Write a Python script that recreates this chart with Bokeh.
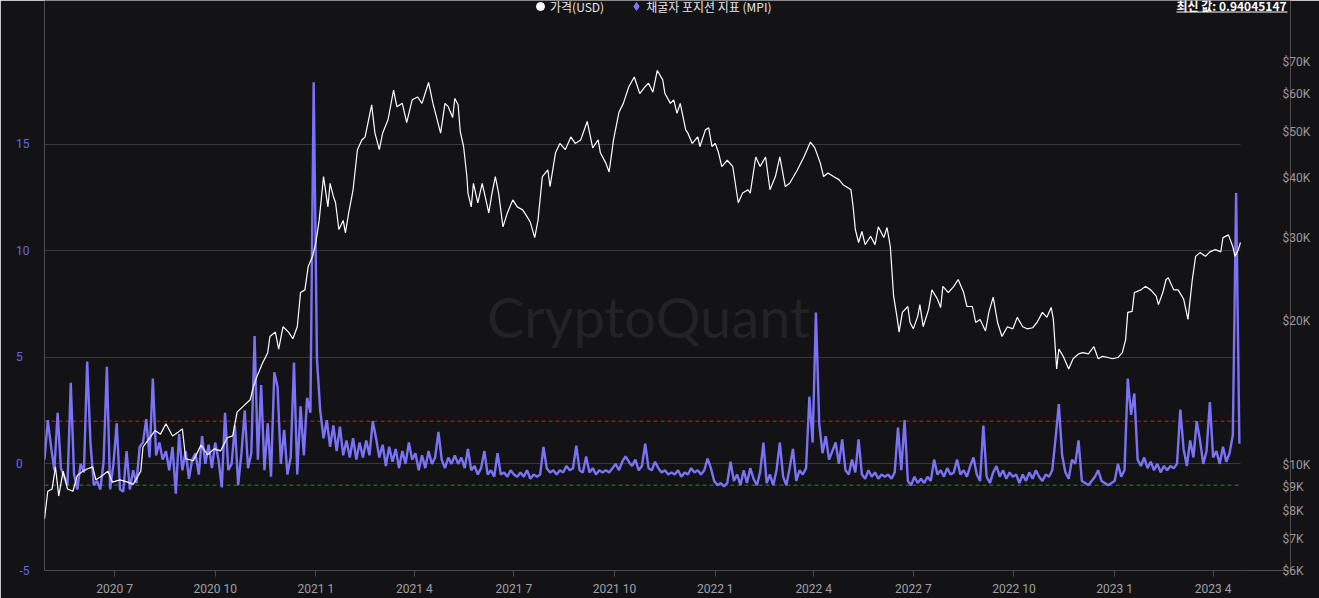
import pandas as pd
from bokeh.plotting import figure
from bokeh.models import (Range1d, LogScale, LogAxis, FixedTicker, CustomJSTickFormatter,
                          Label, Legend, LegendItem, BoxAnnotation)
from bokeh.embed import file_html
from bokeh.resources import INLINE

# ---------------- data ----------------
price_dates = [
    "2020-04-28", "2020-05-01", "2020-05-05", "2020-05-08", "2020-05-11", "2020-05-15", "2020-05-19", "2020-05-24",
    "2020-05-28", "2020-06-02", "2020-06-06", "2020-06-11", "2020-06-14", "2020-06-20", "2020-06-25", "2020-06-29",
    "2020-07-06", "2020-07-13", "2020-07-18", "2020-07-25", "2020-07-27", "2020-08-01", "2020-08-07", "2020-08-12",
    "2020-08-17", "2020-08-23", "2020-08-28", "2020-09-01", "2020-09-04", "2020-09-11", "2020-09-18", "2020-09-24",
    "2020-09-30", "2020-10-06", "2020-10-12", "2020-10-17", "2020-10-21", "2020-10-27", "2020-11-02", "2020-11-05",
    "2020-11-08", "2020-11-13", "2020-11-18", "2020-11-20", "2020-11-25", "2020-11-28", "2020-12-02", "2020-12-07",
    "2020-12-11", "2020-12-15", "2020-12-18", "2020-12-22", "2020-12-25", "2020-12-29", "2021-01-01", "2021-01-04",
    "2021-01-08", "2021-01-12", "2021-01-14", "2021-01-17", "2021-01-19", "2021-01-22", "2021-01-26", "2021-01-28",
    "2021-01-31", "2021-02-04", "2021-02-08", "2021-02-12", "2021-02-15", "2021-02-21", "2021-02-24", "2021-02-28",
    "2021-03-03", "2021-03-08", "2021-03-13", "2021-03-16", "2021-03-21", "2021-03-25", "2021-03-30", "2021-04-04",
    "2021-04-08", "2021-04-14", "2021-04-18", "2021-04-25", "2021-04-29", "2021-05-02", "2021-05-06", "2021-05-08",
    "2021-05-11", "2021-05-13", "2021-05-16", "2021-05-19", "2021-05-20", "2021-05-23", "2021-05-25", "2021-05-29",
    "2021-06-02", "2021-06-06", "2021-06-08", "2021-06-11", "2021-06-14", "2021-06-17", "2021-06-21", "2021-06-25",
    "2021-06-30", "2021-07-04", "2021-07-09", "2021-07-13", "2021-07-16", "2021-07-20", "2021-07-23", "2021-07-27",
    "2021-08-01", "2021-08-03", "2021-08-08", "2021-08-12", "2021-08-17", "2021-08-22", "2021-08-26", "2021-08-31",
    "2021-09-06", "2021-09-11", "2021-09-16", "2021-09-18", "2021-09-23", "2021-09-26", "2021-09-30", "2021-10-05",
    "2021-10-09", "2021-10-14", "2021-10-19", "2021-10-24", "2021-10-28", "2021-11-01", "2021-11-05", "2021-11-09",
    "2021-11-14", "2021-11-16", "2021-11-21", "2021-11-24", "2021-11-27", "2021-11-30", "2021-12-05", "2021-12-07",
    "2021-12-11", "2021-12-16", "2021-12-18", "2021-12-23", "2021-12-26", "2021-12-29", "2022-01-01", "2022-01-04",
    "2022-01-07", "2022-01-12", "2022-01-17", "2022-01-22", "2022-01-26", "2022-01-31", "2022-02-02", "2022-02-07",
    "2022-02-11", "2022-02-16", "2022-02-20", "2022-02-25", "2022-03-01", "2022-03-06", "2022-03-10", "2022-03-17",
    "2022-03-23", "2022-03-29", "2022-04-02", "2022-04-07", "2022-04-10", "2022-04-14", "2022-04-19", "2022-04-24",
    "2022-04-28", "2022-05-03", "2022-05-05", "2022-05-07", "2022-05-09", "2022-05-12", "2022-05-15", "2022-05-18",
    "2022-05-23", "2022-05-27", "2022-05-30", "2022-06-04", "2022-06-07", "2022-06-10", "2022-06-13", "2022-06-16",
    "2022-06-18", "2022-06-21", "2022-06-26", "2022-06-28", "2022-07-01", "2022-07-05", "2022-07-07", "2022-07-10",
    "2022-07-15", "2022-07-18", "2022-07-23", "2022-07-26", "2022-07-28", "2022-08-02", "2022-08-07", "2022-08-11",
    "2022-08-16", "2022-08-19", "2022-08-24", "2022-08-27", "2022-08-31", "2022-09-05", "2022-09-08", "2022-09-12",
    "2022-09-16", "2022-09-20", "2022-09-25", "2022-09-30", "2022-10-04", "2022-10-09", "2022-10-13", "2022-10-18",
    "2022-10-22", "2022-10-27", "2022-10-31", "2022-11-04", "2022-11-06", "2022-11-09", "2022-11-11", "2022-11-15",
    "2022-11-20", "2022-11-24", "2022-11-29", "2022-12-03", "2022-12-08", "2022-12-13", "2022-12-17", "2022-12-21",
    "2022-12-26", "2022-12-30", "2023-01-04", "2023-01-08", "2023-01-11", "2023-01-13", "2023-01-17", "2023-01-19",
    "2023-01-25", "2023-01-29", "2023-02-03", "2023-02-08", "2023-02-10", "2023-02-14", "2023-02-17", "2023-02-19",
    "2023-02-24", "2023-02-28", "2023-03-05", "2023-03-09", "2023-03-13", "2023-03-16", "2023-03-20", "2023-03-25",
    "2023-03-29", "2023-04-03", "2023-04-08", "2023-04-10", "2023-04-15", "2023-04-19", "2023-04-21", "2023-04-24",
    "2023-04-26",
]
price_usd = [
    7700, 8800, 8900, 9900, 8600, 9700, 8900, 8800,
    9500, 9700, 9800, 9900, 9300, 9500, 9700, 9200,
    9300, 9200, 9100, 9700, 10900, 11300, 11800, 11600,
    12200, 11500, 11700, 11900, 10300, 10200, 11000, 10500,
    10800, 10700, 11400, 11500, 12900, 13300, 13700, 14600,
    15300, 16300, 17200, 18600, 19000, 17500, 19500, 19000,
    18400, 19500, 23000, 23300, 26100, 27400, 29300, 32600,
    40300, 34800, 39000, 36600, 35500, 31200, 32600, 30700,
    33800, 37800, 45900, 48100, 48800, 57000, 49700, 45900,
    49700, 53100, 61200, 56500, 57400, 52300, 58400, 59200,
    57400, 63500, 57400, 49700, 57400, 56500, 53600, 58800,
    57000, 50000, 46600, 40300, 37200, 34800, 39000, 35500,
    39000, 35500, 33800, 37200, 40300, 37200, 31600, 33800,
    36000, 34800, 34300, 33200, 32300, 30000, 32600, 40300,
    41600, 38400, 45200, 47300, 45900, 48800, 47300, 48100,
    52600, 46300, 48100, 45200, 43000, 41200, 48100, 55000,
    57400, 62200, 65200, 60200, 61900, 63300, 60600, 67300,
    64300, 60200, 57400, 58400, 54700, 57400, 50500, 49700,
    47300, 48800, 46600, 50500, 51000, 46600, 47300, 45200,
    42300, 43600, 42300, 35500, 37200, 37800, 37200, 44300,
    42300, 44300, 37800, 40300, 44300, 38400, 39000, 41600,
    44300, 47600, 46300, 43000, 40300, 41000, 40300, 39700,
    38700, 38100, 37800, 34800, 31200, 29300, 30900, 29000,
    30200, 29000, 31600, 30000, 31500, 28700, 22600, 20500,
    19000, 20900, 21500, 19900, 19300, 20500, 21700, 19500,
    21200, 23300, 22300, 21400, 23700, 23000, 23700, 24500,
    23000, 21500, 21500, 19900, 20200, 19100, 20900, 22500,
    19900, 18600, 19500, 19300, 20400, 19500, 19300, 19400,
    19900, 20900, 20400, 21400, 20200, 15900, 17500, 16900,
    15900, 16700, 17100, 17200, 17100, 17700, 16700, 16900,
    16800, 16700, 16800, 17200, 18300, 20900, 21000, 23000,
    23300, 23700, 23300, 22600, 21700, 23000, 24500, 24700,
    23300, 23300, 22300, 20200, 24500, 27400, 27900, 27400,
    28000, 28300, 28000, 30000, 30400, 28700, 27400, 28300,
    29300,
]

# Miner Position Index, one reading every 3 days starting 2020-04-28
mpi_start = "2020-04-28"
mpi_step = "3D"
mpi_values = [
    0.2, 2.05, 0.8, -0.3, 2.4, -0.2, -0.6, -1.0, 3.8, -0.5,
    -1.2, 0.0, -0.4, 4.8, 1.0, -1.0, -0.8, -1.2, 0.1, 4.55,
    -1.2, 0.0, 1.9, -1.2, -1.3, 0.6, -1.2, -0.3, -0.9, 0.8,
    1.0, 2.1, 0.3, 4.0, 0.4, 1.0, 0.2, 0.6, -0.3, 0.8,
    -1.4, 1.4, -0.3, 0.6, -0.7, 0.2, 0.5, -0.5, 1.3, 0.0,
    0.9, -0.2, 1.0, 0.2, -1.1, 2.4, -0.3, 0.0, 1.8, -1.0,
    0.5, 2.5, -0.2, 0.5, 6.0, 0.2, 3.7, -0.3, 1.9, -0.6,
    4.3, 3.6, 0.0, 1.6, -0.5, 0.3, 4.75, -0.5, 2.7, 0.4,
    3.1, 2.4, 17.9, 4.9, 2.5, 1.2, 2.05, 0.8, 1.8, 0.6,
    1.75, 0.4, 1.1, 0.3, 1.2, 0.2, 1.0, 0.3, 1.1, 0.4,
    2.0, 1.2, 0.3, 0.9, -0.1, 0.8, 0.1, 0.7, -0.2, 0.6,
    0.0, 1.0, 0.2, 0.5, -0.3, 0.4, -0.2, 0.6, 0.0, 0.3,
    1.5, 0.2, -0.2, 0.3, 0.0, 0.4, 0.0, 0.3, -0.2, 0.7,
    -0.3, -0.1, -0.5, -0.2, 0.6, -0.5, -0.3, -0.6, 0.5, -0.5,
    -0.4, -0.6, -0.3, -0.5, -0.6, -0.4, -0.6, -0.3, -0.7, -0.5,
    -0.6, -0.5, 0.8, -0.2, -0.4, -0.3, -0.5, -0.3, -0.4, -0.1,
    -0.3, -0.2, 0.85, -0.3, -0.4, 0.35, -0.4, -0.2, -0.5, -0.3,
    -0.4, -0.3, -0.4, -0.2, 0.0, -0.3, 0.1, 0.35, 0.1, -0.1,
    0.2, -0.3, -0.1, 0.95, -0.2, -0.3, 0.1, -0.2, -0.4, -0.3,
    -0.5, -0.4, -0.5, -0.3, -0.6, -0.4, -0.5, -0.2, -0.4, -0.3,
    -0.5, -0.3, 0.25, -0.2, -0.8, -1.0, -0.9, -1.05, -0.9, 0.1,
    -0.8, -0.5, -1.0, -0.3, -0.9, -0.2, -0.7, -1.0, -0.4, 1.0,
    -0.9, -0.5, -1.0, -0.3, 1.0, -0.6, -1.0, -0.2, 0.7, -0.8,
    -0.3, -0.5, -0.2, 3.15, 1.0, 7.1, 1.9, 0.5, 1.3, 0.2,
    0.6, 1.0, 0.0, 1.15, -0.3, -0.5, 0.2, -0.4, 1.15, -0.5,
    -0.7, -0.3, -0.6, -0.4, -0.7, -0.5, -0.6, -0.5, -0.7, -0.4,
    1.7, -0.3, 2.05, -0.8, -1.0, -0.6, -0.9, -0.7, -0.9, -0.6,
    -0.8, 0.2, -0.5, -0.3, -0.6, -0.2, -0.5, -0.4, 0.2, -0.5,
    -0.3, -0.6, -0.1, 0.3, -0.5, -0.8, 1.8, -0.6, -0.9, -0.4,
    -0.1, -0.6, -0.3, -0.7, -0.4, -0.6, -0.5, -0.9, -0.5, -0.8,
    -0.4, -0.7, -0.3, -0.6, -0.8, -0.5, -0.6, -0.3, 1.2, 2.8,
    0.4, -0.4, -0.7, 0.2, 0.0, 1.1, -0.8, -0.9, -1.0, -0.8,
    -0.6, -0.3, -0.8, -0.9, -1.0, -0.9, -0.8, 0.0, -0.6, -0.3,
    4.0, 2.3, 3.3, 0.2, -0.1, 0.3, -0.2, 0.1, -0.3, 0.0,
    -0.4, -0.1, -0.3, -0.1, -0.2, 0.0, 2.55, 0.7, -0.1, 1.1,
    0.3, 2.0, 1.1, 0.0, 0.6, 2.9, 0.3, 0.6, 0.0, 0.8,
    0.1, 0.5, 1.35, 12.7, 0.94,
]

mpi_upper = 2.0
mpi_lower = -1.0
mpi_ticks = [-5, 0, 5, 10, 15]
price_ticks = [6000, 7000, 8000, 9000, 10000, 20000, 30000, 40000, 50000, 60000, 70000]
x_tick_dates = ["2020-07-01", "2020-10-01", "2021-01-01", "2021-04-01", "2021-07-01", "2021-10-01",
                "2022-01-01", "2022-04-01", "2022-07-01", "2022-10-01", "2023-01-01", "2023-04-01"]
legend_labels = ["가격(USD)", "채굴자 포지션 지표 (MPI)"]
latest_text = "최신 값: 0.94045147"

# ---------------- styling ----------------
BG = "#131316"
MPI_C = "#7a73f7"
GRID_C = "#38383d"

px = pd.to_datetime(price_dates)
mx = pd.date_range(mpi_start, periods=len(mpi_values), freq=mpi_step)

data_start = pd.Timestamp("2020-04-28")
data_end = pd.Timestamp("2023-04-26")
view_end = pd.Timestamp("2023-06-10 17:00")   # room on the right for the header text
ms = lambda t: t.value / 1e6

p = figure(width=1319, height=598, x_axis_type="datetime", output_backend="svg",
           toolbar_location=None,
           x_range=Range1d(data_start, view_end),
           y_range=Range1d(-5, 21.73),
           min_border_left=44, min_border_right=29, min_border_top=0, min_border_bottom=26,
           background_fill_color=BG, border_fill_color=BG, outline_line_color=None)

p.extra_y_ranges = {"price": Range1d(6000, 94390)}
p.extra_y_scales = {"price": LogScale()}

# grid (horizontal lines stop where the data ends)
p.xgrid.visible = False
p.ygrid.grid_line_color = GRID_C
p.ygrid.grid_line_width = 1
p.ygrid.cross_bounds = (ms(data_start), ms(data_end))

# left axis (MPI) - single-digit labels padded with a figure space to read left-aligned
ya = p.yaxis[0]
ya.ticker = FixedTicker(ticks=mpi_ticks, minor_ticks=[])
ya.formatter = CustomJSTickFormatter(
    code="const s = String(tick); return s.length == 1 ? s + '\\u2007' : s;")
ya.axis_line_color = None
ya.major_tick_line_color = None
ya.minor_tick_line_color = None
ya.major_label_text_color = "#6366f1"
ya.major_label_text_font = "Roboto"
ya.major_label_text_font_size = "12px"
ya.major_label_standoff = 9

# right axis (price, log)
ra = LogAxis(y_range_name="price",
             ticker=FixedTicker(ticks=price_ticks, minor_ticks=[]),
             formatter=CustomJSTickFormatter(code="return '$' + Math.round(tick / 1000) + 'K';"))
ra.axis_line_color = None
ra.major_tick_line_color = None
ra.minor_tick_line_color = None
ra.major_label_text_color = "#9a9a9e"
ra.major_label_text_font = "Roboto"
ra.major_label_text_font_size = "12px"
ra.major_label_text_align = "right"
ra.major_label_standoff = -14
p.add_layout(ra, "right")

# bottom axis
xa = p.xaxis[0]
xa.bounds = (ms(data_start), ms(data_end))
xa.ticker = FixedTicker(ticks=[ms(pd.Timestamp(d)) for d in x_tick_dates], minor_ticks=[])
xa.formatter = CustomJSTickFormatter(
    code="const d = new Date(tick); return d.getUTCFullYear() + ' ' + (d.getUTCMonth() + 1);")
xa.axis_line_color = "#4a4a50"
xa.major_tick_line_color = "#4a4a50"
xa.major_tick_out = 6
xa.major_tick_in = 0
xa.minor_tick_line_color = None
xa.major_label_text_color = "#a0a0a6"
xa.major_label_text_font = "Roboto"
xa.major_label_text_font_size = "12px"
xa.major_label_standoff = 5

# watermark
p.add_layout(Label(x=604, y=254, x_units="screen", y_units="screen", text="CryptoQuant",
                   text_align="center", text_baseline="middle", text_font="Lato",
                   text_font_size="56px", text_color="#222227", level="underlay"))

# threshold lines
p.line([data_start, data_end], [mpi_upper, mpi_upper], line_color="#a03434",
       line_dash="4 3", line_width=1)
p.line([data_start, data_end], [mpi_lower, mpi_lower], line_color="#3d7a3d",
       line_dash="4 3", line_width=1)

# series
p.line(mx, mpi_values, line_color=MPI_C, line_width=2.4)
p.line(px, price_usd, y_range_name="price", line_color="white", line_width=1.2)

# legend (single off-range point per entry so the legend can draw its glyph)
off = [pd.Timestamp("2019-01-01")]
r1 = p.scatter(x=off, y=[0], marker="circle", size=9, fill_color="white", line_color="white")
r2 = p.scatter(x=off, y=[0], marker="diamond", size=12, fill_color=MPI_C, line_color=MPI_C)
legend = Legend(items=[LegendItem(label=legend_labels[0], renderers=[r1]),
                       LegendItem(label=legend_labels[1], renderers=[r2])],
                orientation="horizontal", location=(486, 554), level="overlay",
                glyph_width=20, glyph_height=20, label_height=12, label_standoff=0, spacing=22,
                padding=0, margin=0, border_line_color=None, background_fill_alpha=0,
                label_text_color="#e6e6e6", label_text_font="Noto Sans CJK KR",
                label_text_font_size="12px")
p.add_layout(legend)

# latest value (top right), underlined
p.add_layout(Label(x=1132, y=565, x_units="screen", y_units="screen", text=latest_text,
                   text_align="left", text_baseline="middle", text_font="Noto Sans CJK KR",
                   text_font_size="12px", text_font_style="bold", text_color="white",
                   level="overlay"))
p.add_layout(BoxAnnotation(left=1132, right=1243, bottom=558, top=559,
                           left_units="screen", right_units="screen",
                           bottom_units="screen", top_units="screen",
                           fill_color="white", fill_alpha=1, line_color=None, level="overlay"))

html = file_html(p, INLINE, title="MPI")
html = html.replace("<body>", '<body style="margin:0;background:#131316;overflow:hidden;">', 1)
open("out.html", "w").write(html)
